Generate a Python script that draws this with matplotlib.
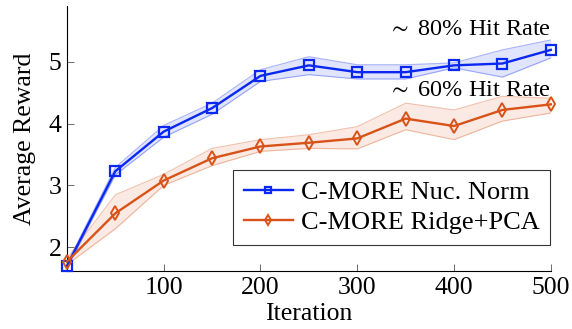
import matplotlib
matplotlib.use("Agg")
import matplotlib.pyplot as plt

plt.rcParams['font.family'] = ['Liberation Serif', 'DejaVu Serif']
plt.rcParams['mathtext.fontset'] = 'stix'

iters = [0, 50, 100, 150, 200, 250, 300, 350, 400, 450, 500]

nuc_mean = [1.70, 3.23, 3.87, 4.25, 4.77, 4.94, 4.83, 4.83, 4.94, 4.97, 5.19]
nuc_low = [1.66, 3.17, 3.78, 4.15, 4.68, 4.79, 4.72, 4.72, 4.90, 4.75, 5.06]
nuc_high = [1.74, 3.29, 3.97, 4.33, 4.87, 5.08, 4.95, 4.95, 4.98, 5.19, 5.35]

ridge_mean = [1.77, 2.55, 3.08, 3.44, 3.63, 3.69, 3.76, 4.08, 3.96, 4.22, 4.31]
ridge_low = [1.72, 2.30, 3.00, 3.32, 3.55, 3.60, 3.59, 3.90, 3.74, 4.04, 4.17]
ridge_high = [1.82, 2.85, 3.18, 3.60, 3.74, 3.82, 3.95, 4.33, 4.22, 4.44, 4.41]

labels = ["C-MORE Nuc. Norm", "C-MORE Ridge+PCA"]
notes = [r"$\sim$ 80% Hit Rate", r"$\sim$ 60% Hit Rate"]

blue = '#0a28f0'
orange = '#d95319'
fs = 18.5

fig = plt.figure(figsize=(5.72, 3.29), dpi=100)
ax = fig.add_axes([0.117, 0.176, 0.846, 0.806])

ax.fill_between(iters, nuc_low, nuc_high, color=blue, alpha=0.12, lw=0)
ax.plot(iters, nuc_low, color=blue, alpha=0.35, lw=0.8)
ax.plot(iters, nuc_high, color=blue, alpha=0.35, lw=0.8)
ax.fill_between(iters, ridge_low, ridge_high, color=orange, alpha=0.12, lw=0)
ax.plot(iters, ridge_low, color=orange, alpha=0.35, lw=0.8)
ax.plot(iters, ridge_high, color=orange, alpha=0.35, lw=0.8)

ax.plot(iters, nuc_mean, color=blue, lw=1.7, marker='s', ms=7,
        mfc='none', mec=blue, mew=1.6, label=labels[0], clip_on=False, zorder=5)
ax.plot(iters, ridge_mean, color=orange, lw=1.7, marker='d', ms=7.5,
        mfc='none', mec=orange, mew=1.4, label=labels[1], clip_on=False, zorder=5)

ax.text(iters[-1], 5.43, notes[0], ha='right', va='baseline', fontsize=fs - 1)
ax.text(iters[-1], 4.45, notes[1], ha='right', va='baseline', fontsize=fs - 1)

ax.set_xlim(0, 500)
ax.set_ylim(1.617, 5.9)
ax.set_xticks([100, 200, 300, 400, 500])
ax.set_yticks([2, 3, 4, 5])
ax.tick_params(direction='in', labelsize=fs, length=5, width=0.6, color='#555555',
               pad=4)
ax.spines['top'].set_visible(False)
ax.spines['right'].set_visible(False)
ax.set_xlabel("Iteration", fontsize=fs, labelpad=3)
ax.set_ylabel("Average Reward", fontsize=fs, labelpad=9)

leg = ax.legend(loc='lower right', bbox_to_anchor=(0.998, 0.10), fontsize=19,
                frameon=True, fancybox=False, edgecolor='black',
                borderaxespad=0, markerscale=0.65,
                handlelength=1.85, borderpad=0.4, labelspacing=0.25,
                handletextpad=0.3)
leg.get_frame().set_linewidth(0.8)

fig.savefig("out.png", dpi=100)
